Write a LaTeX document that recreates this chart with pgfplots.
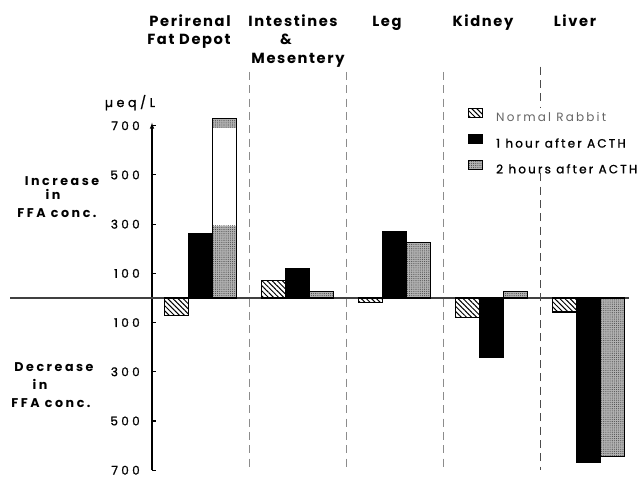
\documentclass[border=0pt]{standalone}
\usepackage{fontspec}
\setmainfont{Poppins}
\usepackage{pgfplots}
\pgfplotsset{compat=1.18}
\usetikzlibrary{patterns.meta,arrows.meta}
\newfontfamily\trk[LetterSpace=28, FakeBold=1.2]{Poppins}
\newfontfamily\lgd[LetterSpace=18]{Poppins}
\newfontfamily\lgdb[LetterSpace=18, FakeBold=1.2]{Poppins}
\newfontfamily\hdr[LetterSpace=11]{Poppins}
\newfontfamily\sid[LetterSpace=20]{Poppins}

\tikzset{
  hatch/.style={draw=black, line width=0.8pt, pattern={Lines[angle=-45,distance=2.7pt,line width=0.75pt]}, pattern color=black},
  blk/.style={draw=black, line width=0.8pt, fill=black},
  stipfill/.style={fill=black!30, postaction={pattern={Dots[distance=1.6pt,radius=0.42pt]}, pattern color=black!70}},
  stip/.style={draw=black, line width=0.8pt, stipfill},
  hd/.style={font=\hdr\bfseries\fontsize{11}{13}\selectfont, inner sep=0pt, anchor=base},
  sd/.style={font=\sid\bfseries\fontsize{9.5}{11}\selectfont, inner sep=0pt, anchor=base},
}
\pgfplotsset{
  mybar/.style={ybar, bar width=0.25, bar shift=0pt,
    legend image code/.code={\draw[##1, line width=0.7pt] (0pt,-0.5pt) rectangle (10.5pt,6.5pt);}},
}

\begin{document}
\begin{tikzpicture}
\useasboundingbox (0,0) rectangle (481.5pt,357.75pt);
\begin{axis}[
  at={(114pt,5.1pt)}, anchor=south west, scale only axis,
  width=357.9pt, height=261.1pt,
  xmin=-0.5, xmax=4.42, ymin=-700, ymax=715,
  axis x line=none, axis y line=left,
  y axis line style={line width=0.9pt, -{Latex[length=5pt,width=3.5pt]}},
  ytick={-700,-500,-300,-100,100,300,500,700},
  yticklabels={700,500,300,100,100,300,500,700},
  yticklabel style={font=\trk\fontsize{9}{10}\selectfont, inner sep=0pt, xshift=-9pt, anchor=east},
  major tick length=3pt, tick align=inside, tick style={line width=0.8pt, black},
  clip=false,
  legend style={at={(0.6622,1.0413)}, anchor=north west, draw=none, fill=white,
    inner sep=0pt, row sep=9pt, column sep=9.75pt,
    font=\lgd\fontsize{9}{10}\selectfont,
    nodes={inner sep=0pt, text height=7pt, text depth=0pt}},
  legend cell align=left,
]
% zero line
\draw[black!75, line width=0.9pt] (axis cs:-1.96,0) -- (axis cs:4.42,0);
% group separators
\draw[black!45, line width=0.6pt, dash pattern=on 6pt off 4pt] (axis cs:0.5,919) -- (axis cs:0.5,-700);
\draw[black!45, line width=0.6pt, dash pattern=on 6pt off 4pt] (axis cs:1.5,919) -- (axis cs:1.5,-700);
\draw[black!45, line width=0.6pt, dash pattern=on 6pt off 4pt] (axis cs:2.5,919) -- (axis cs:2.5,-700);
\draw[black!70, line width=0.7pt, dash pattern=on 6pt off 4pt] (axis cs:3.5,940) -- (axis cs:3.5,-700);

\addplot[mybar, hatch] coordinates {(-0.25,-73) (0.75,70) (1.75,-20) (2.75,-81) (3.75,-57)};
\addplot[mybar, blk] coordinates {(0,262) (1,120) (2,270) (3,-240) (4,-667)};
\addplot[mybar, stip] coordinates {(1.25,28) (2.25,225) (3.25,28) (4.25,-646)};
% Perirenal 2-hour bar as printed: stippled base and cap, open middle
\addplot[mybar, stipfill, draw=none, forget plot] coordinates {(0.25,730)};
\addplot[mybar, fill=white, draw=none, forget plot] coordinates {(0.25,690)};
\addplot[mybar, stipfill, draw=none, forget plot] coordinates {(0.25,293)};
\addplot[mybar, draw=black, line width=0.8pt, fill=none, forget plot] coordinates {(0.25,730)};
\legend{\textcolor{black!60}{Normal Rabbit}, \lgdb 1 hour after ACTH, \lgdb 2 hours after ACTH}
\end{axis}

\begin{scope}[x=0.75pt, y=-0.75pt, shift={(0,357.75pt)}]
\node[hd] at (190,27) {Perirenal};
\node[hd] at (189,45) {Fat Depot};
\node[hd] at (293,27) {Intestines};
\node[hd] at (286,45) {\&};
\node[hd] at (298,64) {Mesentery};
\node[hd] at (387,27) {Leg};
\node[hd] at (483,27) {Kidney};
\node[hd] at (575,27) {Liver};
\node[font=\trk\fontsize{9.5}{11}\selectfont, inner sep=0pt, anchor=base] at (130,107) {µeq/L};
\node[sd] at (62,186) {Increase};
\node[sd] at (53,200) {in};
\node[sd] at (57,218) {FFA conc.};
\node[sd] at (54,372) {Decrease};
\node[sd] at (40,390) {in};
\node[sd] at (51,408) {FFA conc.};
\end{scope}
\end{tikzpicture}
\end{document}
